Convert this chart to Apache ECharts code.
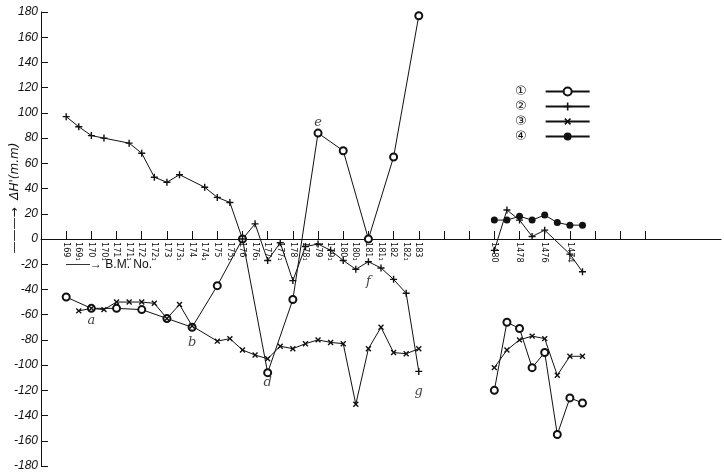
<!DOCTYPE html>
<html>
<head>
<meta charset="utf-8">
<script src="https://cdn.jsdelivr.net/npm/echarts@6/dist/echarts.min.js"></script>
<style>
  html, body { margin: 0; padding: 0; background: #fff; }
  #chart { width: 724px; height: 472px; }
</style>
</head>
<body>
<div id="chart"></div>
<script>
// bench mark labels, left group (positions 0..28) and right group (34..41)
const bmLeft = ['169','169₁','170','170₁','171','171₁','172','172₁','173','173₁','174','174₁','175','175₁',
                '176','176₁','177','177₁','178','178₁','179','179₁','180','180₁','181','181₁','182','182₁','183'];
const bmRight = ['1480','','1478','','1476','','1474',''];
const rightStart = 34;
const lastPos = 52;

// [position, ΔH' (mm)]
const s1Left  = [[0,-46],[2,-55],[4,-55],[6,-56],[8,-63],[10,-70],[12,-37],[14,0],[16,-106],[18,-48],
                 [20,84],[22,70],[24,0],[26,65],[28,177]];
const s1Right = [[34,-120],[35,-66],[36,-71],[37,-102],[38,-90],[39,-155],[40,-126],[41,-130]];

const s2Left  = [[0,97],[1,89],[2,82],[3,80],[5,76],[6,68],[7,49],[8,45],[9,51],[11,41],[12,33],[13,29],
                 [14,0],[15,12],[16,-17],[17,-3],[18,-33],[19,-6],[20,-4],[21,-9],[22,-17],[23,-24],
                 [24,-18],[25,-23],[26,-32],[27,-43],[28,-105]];
const s2Right = [[34,-9],[35,23],[36,15],[37,2],[38,7],[40,-12],[41,-26]];

const s3Left  = [[1,-57],[2,-55],[3,-56],[4,-50],[5,-50],[6,-50],[7,-51],[8,-63],[9,-52],[10,-69],
                 [12,-81],[13,-79],[14,-88],[15,-92],[16,-95],[17,-85],[18,-87],[19,-83],[20,-80],
                 [21,-82],[22,-83],[23,-131],[24,-87],[25,-70],[26,-90],[27,-91],[28,-87]];
const s3Right = [[34,-102],[35,-88],[36,-80],[37,-77],[38,-79],[39,-108],[40,-93],[41,-93]];

const s4Right = [[34,15],[35,15],[36,18],[37,15],[38,19],[39,13],[40,11],[41,11]];

const seriesNames = ['①','②','③','④'];

// letters written beside the curves
const notes = [['a',2,-65],['b',10,-82],['c',34,-120],['d',16,-114],['e',20,92],['f',24,-34],['g',28,-121]];

// the axis starts two half-steps left of B.M. 169
const offset = 2;
const categories = [];
for (let i = -offset; i <= lastPos; i++) {
    let lab = '';
    if (i >= 0 && i < bmLeft.length) lab = bmLeft[i];
    if (i >= rightStart && i < rightStart + bmRight.length) lab = bmRight[i - rightStart];
    categories.push(lab);
}

function pts(left, right) {
    const out = [];
    if (left) left.forEach(p => out.push([p[0] + offset, p[1]]));
    if (left && right) out.push([31 + offset, '-']);
    if (right) right.forEach(p => out.push([p[0] + offset, p[1]]));
    return out;
}

const plusPath = 'path://M4,0H6V4H10V6H6V10H4V6H0V4H4Z';

function lineSeries(name, data, symbol, size, rotate) {
    return {
        name: name,
        type: 'line',
        data: data,
        symbol: symbol,
        symbolSize: size,
        symbolRotate: rotate || 0,
        showAllSymbol: true,
        connectNulls: false,
        lineStyle: { color: '#111', width: 1 },
        itemStyle: { color: '#111', borderColor: '#111', borderWidth: symbol === 'emptyCircle' ? 1.2 : 0 },
        emphasis: { disabled: true },
        animation: false
    };
}

const chart = echarts.init(document.getElementById('chart'));
chart.setOption({
    backgroundColor: '#fff',
    animation: false,
    grid: { left: 41, right: 3, top: 12, bottom: 6, containLabel: false, outerBoundsMode: 'none' },
    legend: {
        orient: 'vertical',
        left: 510,
        top: 80,
        align: 'right',
        itemWidth: 44,
        itemHeight: 10,
        itemGap: 2,
        data: seriesNames,
        textStyle: { fontSize: 13, color: '#111', fontFamily: 'DejaVu Sans', padding: [0, 14, 0, 0] }
    },
    xAxis: {
        type: 'category',
        data: categories,
        boundaryGap: false,
        offset: -227,
        axisLine: { onZero: false, lineStyle: { color: '#111', width: 1 } },
        axisTick: {
            inside: true,
            length: 8,
            lineStyle: { color: '#111' },
            interval: function (index) {
                const i = index - offset;
                return i >= 0 && i <= 46 && i % 2 === 0;
            }
        },
        axisLabel: {
            interval: 0,
            rotate: -90,
            margin: 3,
            fontSize: 9,
            color: '#111',
            fontFamily: 'DejaVu Sans Condensed, DejaVu Sans'
        },
        splitLine: { show: false }
    },
    yAxis: {
        type: 'value',
        min: -180,
        max: 180,
        interval: 20,
        axisLine: { show: true, lineStyle: { color: '#111' } },
        axisTick: { show: true, inside: true, length: 7, lineStyle: { color: '#111' } },
        axisLabel: { fontSize: 12, fontStyle: 'italic', color: '#111', margin: 3, fontFamily: 'Liberation Sans' },
        splitLine: { show: false }
    },
    graphic: [
        {
            type: 'text',
            x: 15, y: 198,
            rotation: Math.PI / 2,
            style: {
                text: '———→  ΔH\'(m.m)',
                fontSize: 12,
                fontStyle: 'italic',
                fill: '#111',
                align: 'center',
                verticalAlign: 'middle',
                fontFamily: 'DejaVu Sans'
            }
        },
        {
            type: 'text',
            x: 66, y: 265,
            style: {
                text: '——→ B.M. No.',
                fontSize: 12,
                fill: '#111',
                verticalAlign: 'middle',
                fontFamily: 'Liberation Sans'
            }
        }
    ],
    series: [
        lineSeries('①', pts(s1Left, s1Right), 'emptyCircle', 7),
        lineSeries('②', pts(s2Left, s2Right), plusPath, 7),
        lineSeries('③', pts(s3Left, s3Right), plusPath, 7, 45),
        lineSeries('④', pts(null, s4Right), 'circle', 7),
        {
            type: 'scatter',
            data: notes.map(n => ({ value: [n[1] + offset, n[2]], name: n[0] })),
            symbolSize: 0,
            silent: true,
            label: {
                show: true,
                formatter: p => p.name,
                position: 'inside',
                fontSize: 13,
                fontStyle: 'italic',
                fontFamily: 'DejaVu Serif',
                color: '#111'
            }
        }
    ]
});
</script>
</body>
</html>
